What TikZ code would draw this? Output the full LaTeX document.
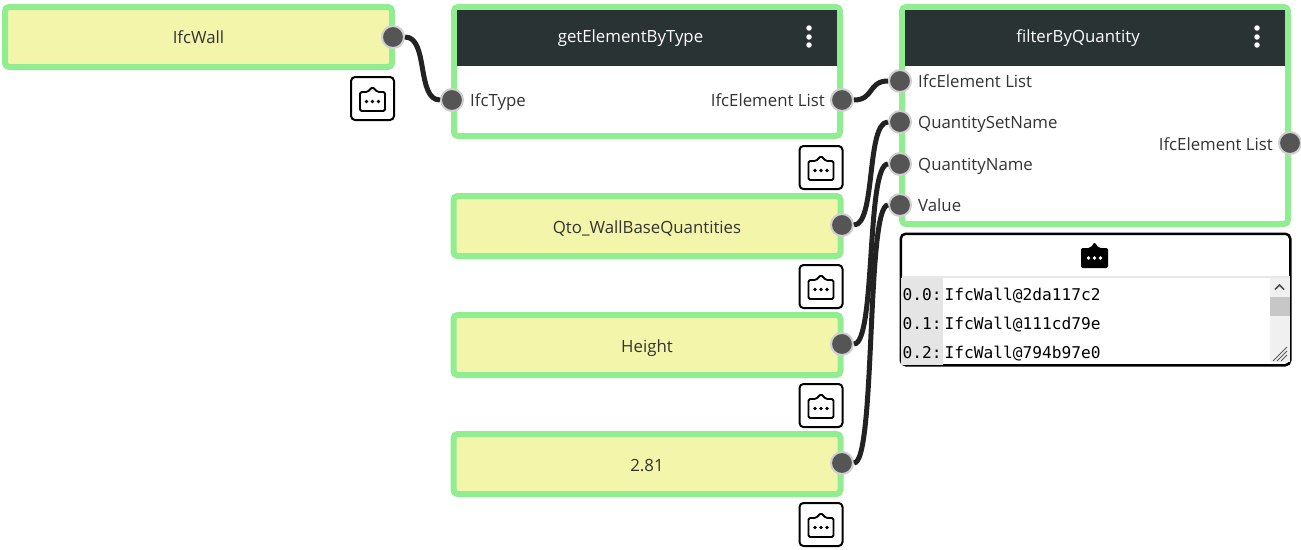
\documentclass[tikz,border=0pt]{standalone}
\usepackage{fontspec}
\setmainfont{Open Sans}
\setmonofont{DejaVu Sans Mono}
\definecolor{nodegreen}{HTML}{90EE90}
\definecolor{nodeyellow}{HTML}{F3F5AB}
\definecolor{headdark}{HTML}{2A3333}
\definecolor{portdark}{HTML}{555555}
\definecolor{portrim}{HTML}{CFCFCF}
\definecolor{labeldark}{HTML}{333333}
\definecolor{wiredark}{HTML}{222222}
\tikzset{
  uitext/.style={text=labeldark, font=\fontsize{16.8}{18}\selectfont, text height=12pt, text depth=0pt},
  valuebox/.style={draw=nodegreen, line width=6pt, fill=nodeyellow, rounded corners=4pt, minimum width=387pt, minimum height=60pt, inner sep=0pt, uitext},
  funcbox/.style={draw=nodegreen, line width=6pt, fill=white, rounded corners=4pt, minimum width=386pt, inner sep=0pt},
  headbar/.style={fill=headdark, minimum width=380pt, minimum height=56pt, inner sep=0pt},
  headtitle/.style={inner sep=0pt, uitext, text=white},
  port/.style={circle, draw=portrim, line width=2pt, fill=portdark, minimum size=22pt, inner sep=0pt},
  portlabel/.style={inner sep=0pt, uitext},
  wire/.style={draw=wiredark, line width=5pt},
  iconbtn/.style={draw=black, line width=2pt, fill=white, rounded corners=4pt, minimum width=43pt, minimum height=43pt, inner sep=0pt},
  menudot/.style={circle, fill=white, minimum size=5.5pt, inner sep=0pt},
  rowtext/.style={inner sep=0pt, anchor=west, font=\ttfamily\fontsize{16.2}{18}\selectfont, text=black, text height=11pt, text depth=3pt},
  % little box with a peak, outlined or solid
  boxicon/.pic={
    \draw[line width=1.8pt, rounded corners=1.5pt, line join=round] (-12.5,-6.5) -- (-5,-6.5) -- (0,-11.5) -- (5,-6.5) -- (12.5,-6.5) -- (12.5,12.5) -- (-12.5,12.5) -- cycle;
    \foreach \i in {-6,0,6} \fill (\i,3) circle (1.9);
  },
  boxiconsolid/.pic={
    \fill[rounded corners=2pt] (-13.5,-9) -- (-4,-9) -- (0,-15) -- (4,-9) -- (13.5,-9) -- (13.5,11) -- (-13.5,11) -- cycle;
    \foreach \i in {-6,0,6} \fill[white] (\i,1) circle (1.9);
  },
}
\begin{document}
\begin{tikzpicture}[x=1pt,y=-1pt]
  \useasboundingbox (0,0) rectangle (1301,549);

  % Value boxes
  \node[valuebox] (wall) at (198.5,37) {IfcWall};
  \node[valuebox, text height=14pt] (qset) at (647,226) {Qto\_WallBaseQuantities};
  \node[valuebox, text height=14pt] (qname) at (647,345) {Height};
  \node[valuebox, text height=14pt] (qvalue) at (647,464) {2.81};

  % Function boxes
  \node[funcbox, minimum height=129pt] (getbox) at (647,71.5) {};
  \node[headbar] (gethead) at (647,38) {};
  \node[headtitle] (gettitle) at (630.5,36) {getElementByType};
  \node[funcbox, minimum height=217pt] (filterbox) at (1095,115.5) {};
  \node[headbar] (filterhead) at (1095,38) {};
  \node[headtitle] (filtertitle) at (1078,36) {filterByQuantity};

  % Header menus
  \foreach \n/\cx in {getdots/809, filterdots/1257} {
    \node[menudot] (\n a) at (\cx,28) {};
    \node[menudot] (\n b) at (\cx,37) {};
    \node[menudot] (\n c) at (\cx,45) {};
  }

  % Icon buttons under the boxes
  \foreach \n/\cx/\cy in {wallbtn/372.5/98.5, getbtn/821/167.5, qsetbtn/821/286.5, qnamebtn/821/405.5, qvaluebtn/821/524.5} {
    \node[iconbtn] (\n) at (\cx,\cy) {};
    \pic at (\n) {boxicon};
  }

  % Output panel
  \node[draw=black, line width=2.5pt, fill=white, rounded corners=5pt, minimum width=389.5pt, minimum height=131.5pt, inner sep=0pt] (panel) at (1095.5,299.5) {};
  \pic at (1094.5,257) {boxiconsolid};
  \fill[black!9] (901.5,276) rectangle (1289.5,277.5);
  \fill[black!10] (901,278) rectangle (943,364.5);
  \fill[black!6] (1270,278) rectangle (1289.5,362);
  \fill[black!22] (1270,297) rectangle (1289.5,316);
  \draw[black!70, line width=1.6pt] (1275,289.5) -- (1279.5,285) -- (1284,289.5);
  \draw[black!65, line width=0.9pt] (1273,361) -- (1287,347) (1277,361) -- (1287,351) (1281,361) -- (1287,355);
  \node[rowtext] (idx0) at (902.5,296.7) {0.0:};
  \node[rowtext] (idx1) at (902.5,325.3) {0.1:};
  \node[rowtext] (idx2) at (902.5,354) {0.2:};
  \node[rowtext] (row0) at (944.5,296.7) {IfcWall@2da117c2};
  \node[rowtext] (row1) at (944.5,325.3) {IfcWall@111cd79e};
  \node[rowtext] (row2) at (944.5,354) {IfcWall@794b97e0};

  % Ports
  \node[port] (wallout) at (393,37) {};
  \node[port] (getin) at (452,100) {};
  \node[port] (getout) at (842,100) {};
  \node[port] (qsetout) at (842,225) {};
  \node[port] (qnameout) at (842,344) {};
  \node[port] (qvalueout) at (842,463) {};
  \node[port] (inlist) at (900,81) {};
  \node[port] (inset) at (900,122) {};
  \node[port] (inname) at (900,164) {};
  \node[port] (invalue) at (900,205) {};
  \node[port] (filterout) at (1290,143) {};

  % Port labels
  \node[portlabel, anchor=west] (getinlabel) at (470,100) {IfcType};
  \node[portlabel, anchor=east] (getoutlabel) at (825,100) {IfcElement List};
  \node[portlabel, anchor=west] (inlistlabel) at (918,81) {IfcElement List};
  \node[portlabel, anchor=west] (insetlabel) at (918,122) {QuantitySetName};
  \node[portlabel, anchor=west] (innamelabel) at (918,164) {QuantityName};
  \node[portlabel, anchor=west] (invaluelabel) at (918,205) {Value};
  \node[portlabel, anchor=east] (filteroutlabel) at (1273,144) {IfcElement List};

  % Wires
  \draw[wire] (wallout.east) .. controls +(24,0) and +(-24,0) .. (getin.west);
  \draw[wire] (getout.east) .. controls +(20,0) and +(-20,0) .. (inlist.west);
  \draw[wire] (qsetout.east) .. controls +(22,0) and +(-22,0) .. (inset.west);
  \draw[wire] (qnameout.east) .. controls +(22,0) and +(-22,0) .. (inname.west);
  \draw[wire] (qvalueout.east) .. controls +(22,0) and +(-22,0) .. (invalue.west);
\end{tikzpicture}
\end{document}
